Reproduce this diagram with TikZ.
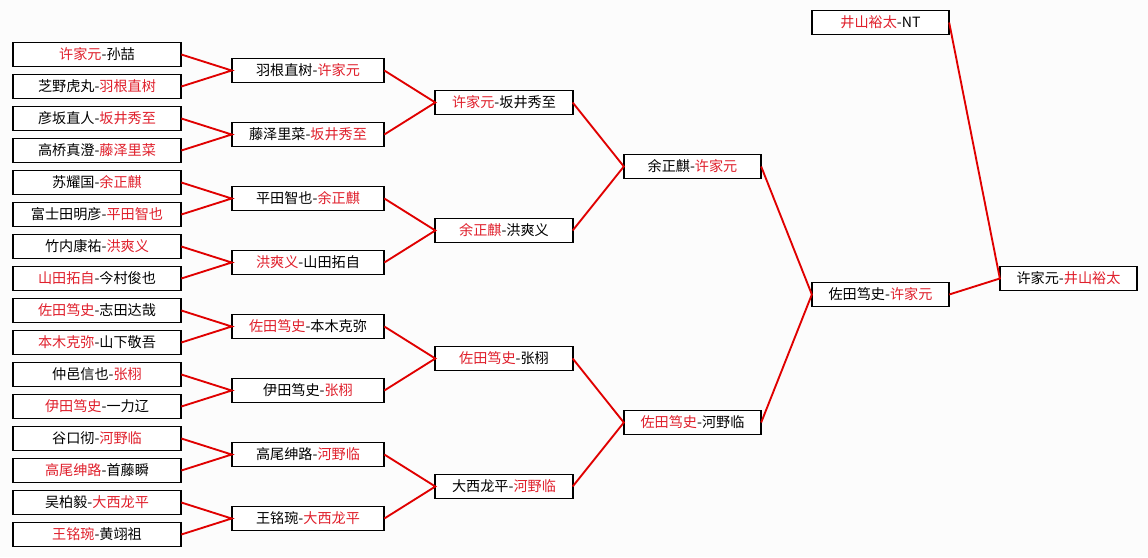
\documentclass[tikz,border=0pt]{standalone}
\usepackage{fontspec}
\newfontfamily\cjk{Noto Sans CJK SC}
\usetikzlibrary{positioning}
\usepackage{xcolor}
\definecolor{winred}{HTML}{E0202C}
\definecolor{linkred}{HTML}{E00000}
\definecolor{paper}{HTML}{FCFCFC}
\newcommand{\winner}[1]{\textcolor{winred}{#1}}

\begin{document}
\begin{tikzpicture}[x=0.75pt,y=-0.75pt,
    every node/.style={font=\cjk\fontsize{10.6}{12}\selectfont},
    match/.style={draw=black,line width=1.4pt,fill=white,inner sep=0pt,outer sep=0pt,minimum height=18pt},
    first/.style={match,minimum width=126.5pt},
    second/.style={match,minimum width=114.5pt},
    later/.style={match,minimum width=103pt},
    link/.style={draw=linkred,line width=1.4pt}]
    \fill[paper] (0,0) rectangle (1148,557);
    \useasboundingbox (0,0) rectangle (1148,557);
    % First round
    \node[first] (a1)  at (97,54.5)  {\winner{许家元}-孙喆};
    \node[first] (a2)  at (97,86.5)  {芝野虎丸-\winner{羽根直树}};
    \node[first] (a3)  at (97,118.5) {彦坂直人-\winner{坂井秀至}};
    \node[first] (a4)  at (97,150.5) {高桥真澄-\winner{藤泽里菜}};
    \node[first] (a5)  at (97,182.5) {苏耀国-\winner{余正麒}};
    \node[first] (a6)  at (97,214.5) {富士田明彦-\winner{平田智也}};
    \node[first] (a7)  at (97,246.5) {竹内康祐-\winner{洪爽义}};
    \node[first] (a8)  at (97,278.5) {\winner{山田拓自}-今村俊也};
    \node[first] (a9)  at (97,310.5) {\winner{佐田笃史}-志田达哉};
    \node[first] (a10) at (97,342.5) {\winner{本木克弥}-山下敬吾};
    \node[first] (a11) at (97,374.5) {仲邑信也-\winner{张栩}};
    \node[first] (a12) at (97,406.5) {\winner{伊田笃史}-一力辽};
    \node[first] (a13) at (97,438.5) {谷口彻-\winner{河野临}};
    \node[first] (a14) at (97,470.5) {\winner{高尾绅路}-首藤瞬};
    \node[first] (a15) at (97,502.5) {吴柏毅-\winner{大西龙平}};
    \node[first] (a16) at (97,534.5) {\winner{王铭琬}-黄翊祖};
    % Second round
    \node[second] (b1) at (308,70.5)  {羽根直树-\winner{许家元}};
    \node[second] (b2) at (308,134.5) {藤泽里菜-\winner{坂井秀至}};
    \node[second] (b3) at (308,198.5) {平田智也-\winner{余正麒}};
    \node[second] (b4) at (308,262.5) {\winner{洪爽义}-山田拓自};
    \node[second] (b5) at (308,326.5) {\winner{佐田笃史}-本木克弥};
    \node[second] (b6) at (308,390.5) {伊田笃史-\winner{张栩}};
    \node[second] (b7) at (308,454.5) {高尾绅路-\winner{河野临}};
    \node[second] (b8) at (308,518.5) {王铭琬-\winner{大西龙平}};
    % Third round
    \node[later] (c1) at (504,102.5) {\winner{许家元}-坂井秀至};
    \node[later] (c2) at (504,230.5) {\winner{余正麒}-洪爽义};
    \node[later] (c3) at (504,358.5) {\winner{佐田笃史}-张栩};
    \node[later] (c4) at (504,486.5) {大西龙平-\winner{河野临}};
    % Semi-finals and final
    \node[later] (d1) at (692.5,166.5) {余正麒-\winner{许家元}};
    \node[later] (d2) at (692.5,422.5) {\winner{佐田笃史}-河野临};
    \node[later] (e1) at (880.5,294.5) {佐田笃史-\winner{许家元}};
    \node[later] (top) at (880.5,22.5) {\winner{井山裕太}-NT};
    \node[later] (final) at (1068.5,278.5) {许家元-\winner{井山裕太}};
    % Connectors
    \draw[link] (a1.east) -- (b1.west) -- (a2.east);
    \draw[link] (a3.east) -- (b2.west) -- (a4.east);
    \draw[link] (a5.east) -- (b3.west) -- (a6.east);
    \draw[link] (a7.east) -- (b4.west) -- (a8.east);
    \draw[link] (a9.east) -- (b5.west) -- (a10.east);
    \draw[link] (a11.east) -- (b6.west) -- (a12.east);
    \draw[link] (a13.east) -- (b7.west) -- (a14.east);
    \draw[link] (a15.east) -- (b8.west) -- (a16.east);
    \draw[link] (b1.east) -- (c1.west) -- (b2.east);
    \draw[link] (b3.east) -- (c2.west) -- (b4.east);
    \draw[link] (b5.east) -- (c3.west) -- (b6.east);
    \draw[link] (b7.east) -- (c4.west) -- (b8.east);
    \draw[link] (c1.east) -- (d1.west) -- (c2.east);
    \draw[link] (c3.east) -- (d2.west) -- (c4.east);
    \draw[link] (d1.east) -- (e1.west) -- (d2.east);
    \draw[link] (top.east) -- (final.west) -- (e1.east);
  \end{tikzpicture}
\end{document}
